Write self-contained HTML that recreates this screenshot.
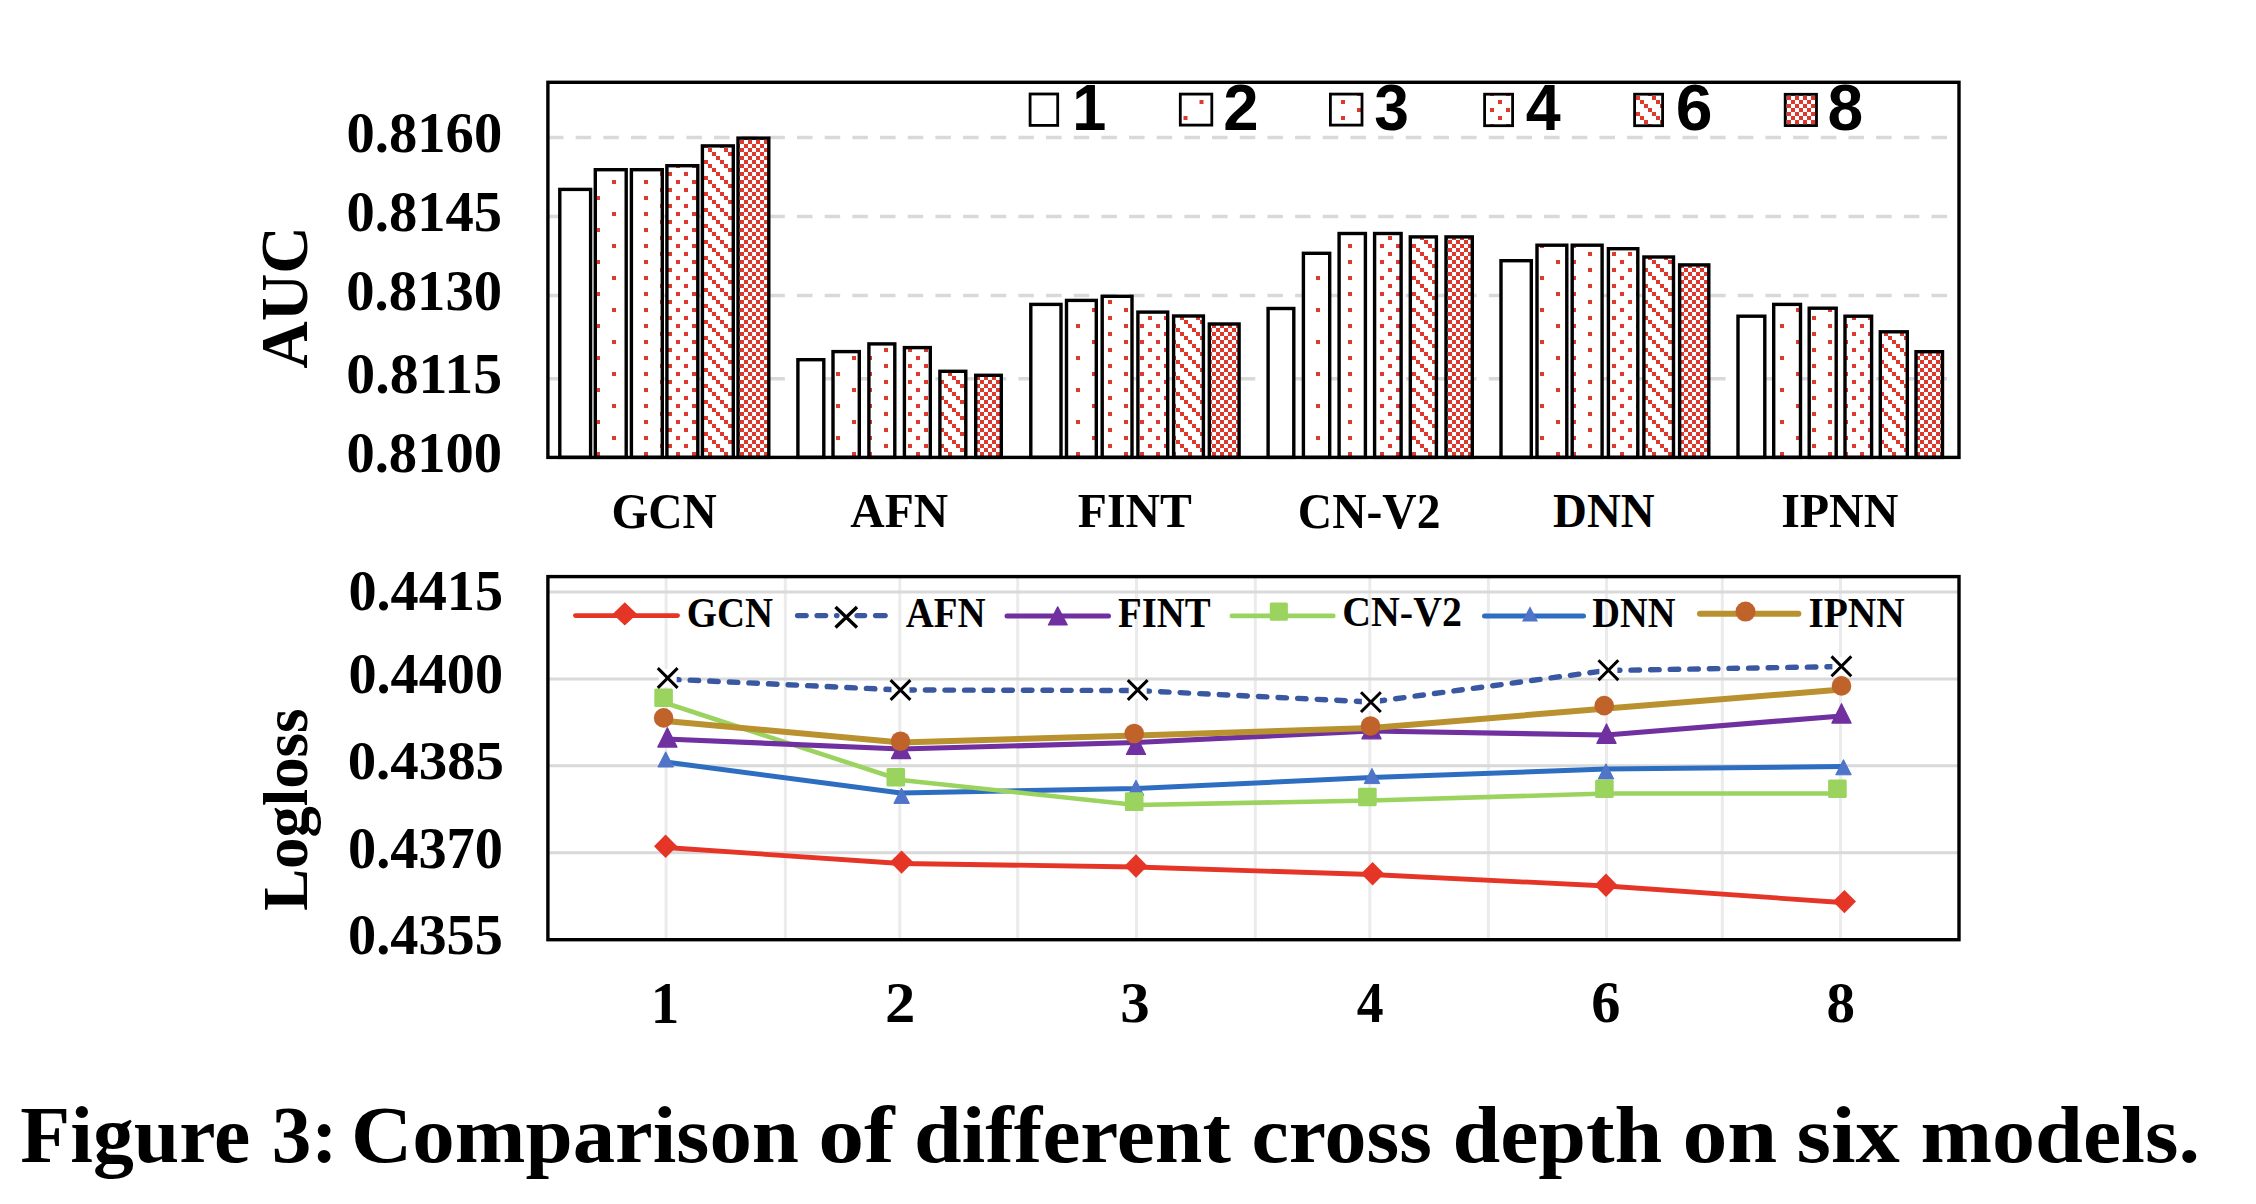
<!DOCTYPE html>
<html><head><meta charset="utf-8"><style>
html,body{margin:0;padding:0;background:#fff;}
svg{display:block;}
</style></head><body>
<svg width="2256" height="1204" viewBox="0 0 2256 1204">
<defs>
<pattern id="p2" patternUnits="userSpaceOnUse" width="32" height="32"><rect width="32" height="32" fill="#fff"/><rect x="20" y="4" width="4" height="4" fill="#DC3A2E"/><rect x="4" y="20" width="4" height="4" fill="#DC3A2E"/></pattern>
<pattern id="p3" patternUnits="userSpaceOnUse" width="32" height="16"><rect width="32" height="16" fill="#fff"/><rect x="4" y="4" width="4" height="4" fill="#DC3A2E"/><rect x="20" y="12" width="4" height="4" fill="#DC3A2E"/></pattern>
<pattern id="p4" patternUnits="userSpaceOnUse" width="16" height="16"><rect width="16" height="16" fill="#fff"/><rect x="4" y="4" width="4" height="4" fill="#DC3A2E"/><rect x="12" y="12" width="4" height="4" fill="#DC3A2E"/></pattern>
<pattern id="p6" patternUnits="userSpaceOnUse" width="16" height="16"><rect width="16" height="16" fill="#fff"/><rect x="0" y="0" width="4" height="4" fill="#DC3A2E"/><rect x="4" y="4" width="4" height="4" fill="#DC3A2E"/><rect x="8" y="8" width="4" height="4" fill="#DC3A2E"/><rect x="12" y="12" width="4" height="4" fill="#DC3A2E"/></pattern>
<pattern id="p8" patternUnits="userSpaceOnUse" width="8" height="8"><rect width="8" height="8" fill="#fff"/><rect x="0" y="0" width="4" height="4" fill="#DC3A2E"/><rect x="4" y="4" width="4" height="4" fill="#DC3A2E"/></pattern>
<pattern id="q2" href="#p2" patternTransform="translate(-4.5,0)"/>
<pattern id="q3" href="#p3" patternTransform="translate(-7,0)"/>
<pattern id="q4" href="#p4" patternTransform="translate(6,0)"/>
<pattern id="q6" href="#p6" patternTransform="translate(4,0)"/>
<pattern id="q8" href="#p8" patternTransform="translate(3,0)"/>
</defs>
<rect width="2256" height="1204" fill="#fff"/>

<line x1="547.9" y1="137.4" x2="1959.0" y2="137.4" stroke="#D9D9D9" stroke-width="3.5" stroke-dasharray="15.5 12.17" stroke-dashoffset="-0.1"/>
<line x1="547.9" y1="216.4" x2="1959.0" y2="216.4" stroke="#D9D9D9" stroke-width="3.5" stroke-dasharray="15.5 12.17" stroke-dashoffset="-0.1"/>
<line x1="547.9" y1="295.6" x2="1959.0" y2="295.6" stroke="#D9D9D9" stroke-width="3.5" stroke-dasharray="15.5 12.17" stroke-dashoffset="-0.1"/>
<line x1="547.9" y1="378.8" x2="1959.0" y2="378.8" stroke="#D9D9D9" stroke-width="3.5" stroke-dasharray="15.5 12.17" stroke-dashoffset="-0.1"/>
<rect x="559.8" y="189.4" width="30.8" height="268" fill="#fff" stroke="#000" stroke-width="3.4"/>
<rect x="595.3" y="169.7" width="30.9" height="287.7" fill="url(#p2)" stroke="#000" stroke-width="3.4"/>
<rect x="631.4" y="169.7" width="30.9" height="287.7" fill="url(#p3)" stroke="#000" stroke-width="3.4"/>
<rect x="666.9" y="165.7" width="30.9" height="291.7" fill="url(#p4)" stroke="#000" stroke-width="3.4"/>
<rect x="702.4" y="145.9" width="30.9" height="311.5" fill="url(#p6)" stroke="#000" stroke-width="3.4"/>
<rect x="738" y="138.1" width="30.8" height="319.3" fill="url(#p8)" stroke="#000" stroke-width="3.4"/>
<rect x="797.9" y="359.7" width="25.9" height="97.7" fill="#fff" stroke="#000" stroke-width="3.4"/>
<rect x="833" y="351.6" width="26.3" height="105.8" fill="url(#p2)" stroke="#000" stroke-width="3.4"/>
<rect x="868.9" y="343.9" width="25.9" height="113.5" fill="url(#p3)" stroke="#000" stroke-width="3.4"/>
<rect x="904.4" y="347.6" width="25.9" height="109.8" fill="url(#p4)" stroke="#000" stroke-width="3.4"/>
<rect x="939.9" y="371.3" width="25.9" height="86.1" fill="url(#p6)" stroke="#000" stroke-width="3.4"/>
<rect x="975.7" y="375.3" width="25.6" height="82.1" fill="url(#p8)" stroke="#000" stroke-width="3.4"/>
<rect x="1030.8" y="304.4" width="30.2" height="153" fill="#fff" stroke="#000" stroke-width="3.4"/>
<rect x="1066.5" y="300.4" width="29.8" height="157" fill="url(#p2)" stroke="#000" stroke-width="3.4"/>
<rect x="1102.2" y="296.3" width="29.8" height="161.1" fill="url(#p3)" stroke="#000" stroke-width="3.4"/>
<rect x="1137.9" y="312.1" width="29.8" height="145.3" fill="url(#p4)" stroke="#000" stroke-width="3.4"/>
<rect x="1173.6" y="316" width="29.8" height="141.4" fill="url(#p6)" stroke="#000" stroke-width="3.4"/>
<rect x="1209.3" y="324" width="29.8" height="133.4" fill="url(#p8)" stroke="#000" stroke-width="3.4"/>
<rect x="1268.1" y="308.5" width="25.7" height="148.9" fill="#fff" stroke="#000" stroke-width="3.4"/>
<rect x="1303.4" y="253.3" width="26.3" height="204.1" fill="url(#p2)" stroke="#000" stroke-width="3.4"/>
<rect x="1339.1" y="233.5" width="26.3" height="223.9" fill="url(#p3)" stroke="#000" stroke-width="3.4"/>
<rect x="1374.6" y="233.5" width="26.5" height="223.9" fill="url(#p4)" stroke="#000" stroke-width="3.4"/>
<rect x="1410.3" y="236.9" width="26.1" height="220.5" fill="url(#p6)" stroke="#000" stroke-width="3.4"/>
<rect x="1446" y="236.9" width="26.3" height="220.5" fill="url(#p8)" stroke="#000" stroke-width="3.4"/>
<rect x="1501" y="260.7" width="30.3" height="196.7" fill="#fff" stroke="#000" stroke-width="3.4"/>
<rect x="1537" y="245.2" width="29.8" height="212.2" fill="url(#p2)" stroke="#000" stroke-width="3.4"/>
<rect x="1572.2" y="245.2" width="29.9" height="212.2" fill="url(#p3)" stroke="#000" stroke-width="3.4"/>
<rect x="1608.4" y="248.7" width="29.4" height="208.7" fill="url(#p4)" stroke="#000" stroke-width="3.4"/>
<rect x="1643.9" y="257" width="29.6" height="200.4" fill="url(#p6)" stroke="#000" stroke-width="3.4"/>
<rect x="1679.6" y="264.9" width="29.2" height="192.5" fill="url(#p8)" stroke="#000" stroke-width="3.4"/>
<rect x="1738" y="316.2" width="26.8" height="141.2" fill="#fff" stroke="#000" stroke-width="3.4"/>
<rect x="1773.7" y="304.4" width="26.8" height="153" fill="url(#p2)" stroke="#000" stroke-width="3.4"/>
<rect x="1809.2" y="308.2" width="27" height="149.2" fill="url(#p3)" stroke="#000" stroke-width="3.4"/>
<rect x="1845" y="316.2" width="26.6" height="141.2" fill="url(#p4)" stroke="#000" stroke-width="3.4"/>
<rect x="1880.3" y="331.8" width="27" height="125.6" fill="url(#p6)" stroke="#000" stroke-width="3.4"/>
<rect x="1916" y="351.7" width="26.5" height="105.7" fill="url(#p8)" stroke="#000" stroke-width="3.4"/>
<rect x="547.9" y="82.3" width="1411.1" height="375.1" fill="none" stroke="#000" stroke-width="3.4"/>
<rect x="1030.1" y="94" width="27.6" height="31.4" fill="#fff" stroke="#000" stroke-width="2.8"/>
<rect x="1180.3" y="94.1" width="31.5" height="31" fill="url(#q2)" stroke="#000" stroke-width="2.8"/>
<rect x="1330.4" y="94.1" width="31.6" height="31" fill="url(#q3)" stroke="#000" stroke-width="2.8"/>
<rect x="1484.6" y="94.2" width="28" height="31.5" fill="url(#q4)" stroke="#000" stroke-width="2.8"/>
<rect x="1634.6" y="94.2" width="28" height="31.5" fill="url(#q6)" stroke="#000" stroke-width="2.8"/>
<rect x="1785.2" y="94.3" width="31.3" height="31.3" fill="url(#q8)" stroke="#000" stroke-width="2.8"/>
<text transform="translate(1072.37,130.3) scale(0.9490,1)" font-size="64.58" font-family='"Liberation Sans", sans-serif' font-weight="bold" fill="#000">1</text>
<text transform="translate(1223.18,130.4) scale(0.9871,1)" font-size="64.37" font-family='"Liberation Sans", sans-serif' font-weight="bold" fill="#000">2</text>
<text transform="translate(1374.2,130.2) scale(0.9723,1)" font-size="64.08" font-family='"Liberation Sans", sans-serif' font-weight="bold" fill="#000">3</text>
<text transform="translate(1525.76,130.3) scale(0.9747,1)" font-size="64.44" font-family='"Liberation Sans", sans-serif' font-weight="bold" fill="#000">4</text>
<text transform="translate(1675.82,130.26) scale(1.0326,1)" font-size="64.03" font-family='"Liberation Sans", sans-serif' font-weight="bold" fill="#000">6</text>
<text transform="translate(1827.61,130.06) scale(1.0021,1)" font-size="64.03" font-family='"Liberation Sans", sans-serif' font-weight="bold" fill="#000">8</text>
<text transform="translate(346.58,152.13) scale(0.9793,1)" font-size="57.79" font-family='"Liberation Serif", serif' font-weight="bold" fill="#000">0.8160</text>
<text transform="translate(346.58,230.55) scale(0.9971,1)" font-size="56.76" font-family='"Liberation Serif", serif' font-weight="bold" fill="#000">0.8145</text>
<text transform="translate(346.27,309.84) scale(0.9907,1)" font-size="57.21" font-family='"Liberation Serif", serif' font-weight="bold" fill="#000">0.8130</text>
<text transform="translate(346.33,393.04) scale(1.0108,1)" font-size="57.21" font-family='"Liberation Serif", serif' font-weight="bold" fill="#000">0.8115</text>
<text transform="translate(346.38,471.94) scale(0.9926,1)" font-size="57.06" font-family='"Liberation Serif", serif' font-weight="bold" fill="#000">0.8100</text>
<text transform="translate(611.43,527.89) scale(0.9386,1)" font-size="50.56" font-family='"Liberation Serif", serif' font-weight="bold" fill="#000">GCN</text>
<text transform="translate(850.32,527.2) scale(0.9642,1)" font-size="49.39" font-family='"Liberation Serif", serif' font-weight="bold" fill="#000">AFN</text>
<text transform="translate(1077.76,527) scale(0.9776,1)" font-size="48.85" font-family='"Liberation Serif", serif' font-weight="bold" fill="#000">FINT</text>
<text transform="translate(1297.82,527.65) scale(0.9478,1)" font-size="50.18" font-family='"Liberation Serif", serif' font-weight="bold" fill="#000">CN-V2</text>
<text transform="translate(1553.08,526.88) scale(0.9632,1)" font-size="48.67" font-family='"Liberation Serif", serif' font-weight="bold" fill="#000">DNN</text>
<text transform="translate(1781.14,527) scale(0.9825,1)" font-size="48.85" font-family='"Liberation Serif", serif' font-weight="bold" fill="#000">IPNN</text>
<text transform="translate(307.13,368.86) rotate(-90) scale(0.9793,1)" font-size="67.21" font-family='"Liberation Serif", serif' font-weight="bold" fill="#000">AUC</text>
<line x1="666.1" y1="576.6" x2="666.1" y2="939.7" stroke="#EBEBEB" stroke-width="3"/>
<line x1="785.3" y1="576.6" x2="785.3" y2="939.7" stroke="#EBEBEB" stroke-width="3"/>
<line x1="899.8" y1="576.6" x2="899.8" y2="939.7" stroke="#EBEBEB" stroke-width="3"/>
<line x1="1017.7" y1="576.6" x2="1017.7" y2="939.7" stroke="#EBEBEB" stroke-width="3"/>
<line x1="1136.5" y1="576.6" x2="1136.5" y2="939.7" stroke="#EBEBEB" stroke-width="3"/>
<line x1="1255.3" y1="576.6" x2="1255.3" y2="939.7" stroke="#EBEBEB" stroke-width="3"/>
<line x1="1369.8" y1="576.6" x2="1369.8" y2="939.7" stroke="#EBEBEB" stroke-width="3"/>
<line x1="1488.4" y1="576.6" x2="1488.4" y2="939.7" stroke="#EBEBEB" stroke-width="3"/>
<line x1="1606.5" y1="576.6" x2="1606.5" y2="939.7" stroke="#EBEBEB" stroke-width="3"/>
<line x1="1722.3" y1="576.6" x2="1722.3" y2="939.7" stroke="#EBEBEB" stroke-width="3"/>
<line x1="1840.5" y1="576.6" x2="1840.5" y2="939.7" stroke="#EBEBEB" stroke-width="3"/>
<line x1="547.9" y1="592" x2="1959.0" y2="592" stroke="#D9D9D9" stroke-width="3"/>
<line x1="547.9" y1="678.9" x2="1959.0" y2="678.9" stroke="#D9D9D9" stroke-width="3"/>
<line x1="547.9" y1="765.8" x2="1959.0" y2="765.8" stroke="#D9D9D9" stroke-width="3"/>
<line x1="547.9" y1="852.8" x2="1959.0" y2="852.8" stroke="#D9D9D9" stroke-width="3"/>
<polyline points="665.6,847.5 900.8,863.5 1136,867 1371.2,874.5 1606.4,886 1841.6,902.5" fill="none" stroke="#E53527" stroke-width="4.8" stroke-linejoin="round"/>
<path d="M665.6,834.5 L677.2,846.2 L665.6,857.9 L654,846.2Z" fill="#E53527"/>
<path d="M901.6,850.4 L913.2,862.1 L901.6,873.8 L890,862.1Z" fill="#E53527"/>
<path d="M1136,854.3 L1147.6,866 L1136,877.7 L1124.4,866Z" fill="#E53527"/>
<path d="M1372.6,862 L1384.2,873.7 L1372.6,885.4 L1361,873.7Z" fill="#E53527"/>
<path d="M1606,873.6 L1617.6,885.3 L1606,897 L1594.4,885.3Z" fill="#E53527"/>
<path d="M1844.4,889.9 L1856,901.6 L1844.4,913.3 L1832.8,901.6Z" fill="#E53527"/>
<polyline points="665.6,762 900.8,793 1136,788.5 1371.2,777.5 1606.4,769 1841.6,766.5" fill="none" stroke="#2E6EC0" stroke-width="5" stroke-linejoin="round"/>
<path d="M665.7,751.8 L673.5,767 L657.9,767Z" fill="#4F74C8" stroke="#4F74C8" stroke-width="1" stroke-linejoin="round"/>
<path d="M901.6,788.2 L909.4,803.4 L893.8,803.4Z" fill="#4F74C8" stroke="#4F74C8" stroke-width="1" stroke-linejoin="round"/>
<path d="M1136,780.1 L1143.8,795.3 L1128.2,795.3Z" fill="#4F74C8" stroke="#4F74C8" stroke-width="1" stroke-linejoin="round"/>
<path d="M1372,768.4 L1379.8,783.6 L1364.2,783.6Z" fill="#4F74C8" stroke="#4F74C8" stroke-width="1" stroke-linejoin="round"/>
<path d="M1606,763.8 L1613.8,779 L1598.2,779Z" fill="#4F74C8" stroke="#4F74C8" stroke-width="1" stroke-linejoin="round"/>
<path d="M1843.5,759.6 L1851.3,774.8 L1835.7,774.8Z" fill="#4F74C8" stroke="#4F74C8" stroke-width="1" stroke-linejoin="round"/>
<polyline points="665.6,703 900.8,780 1136,805 1371.2,800.5 1606.4,793.5 1841.6,793.5" fill="none" stroke="#9BD35F" stroke-width="4.6" stroke-linejoin="round"/>
<rect x="654.3" y="688.4" width="18.6" height="18.6" rx="1.5" fill="#9BD35F"/>
<rect x="886.5" y="767.9" width="18.6" height="18.6" rx="1.5" fill="#9BD35F"/>
<rect x="1124.9" y="792.3" width="18.6" height="18.6" rx="1.5" fill="#9BD35F"/>
<rect x="1358.1" y="787.7" width="18.6" height="18.6" rx="1.5" fill="#9BD35F"/>
<rect x="1595.1" y="779.5" width="18.6" height="18.6" rx="1.5" fill="#9BD35F"/>
<rect x="1828.1" y="779.4" width="18.6" height="18.6" rx="1.5" fill="#9BD35F"/>
<polyline points="665.6,739 900.8,749 1136,742.5 1371.2,731 1606.4,735 1841.6,716" fill="none" stroke="#7030A0" stroke-width="5.2" stroke-linejoin="round"/>
<path d="M667.4,727.7 L677,747.1 L657.8,747.1Z" fill="#7030A0" stroke="#7030A0" stroke-width="1.2" stroke-linejoin="round"/>
<path d="M901,739.2 L910.6,758.6 L891.4,758.6Z" fill="#7030A0" stroke="#7030A0" stroke-width="1.2" stroke-linejoin="round"/>
<path d="M1136,735 L1145.6,754.4 L1126.4,754.4Z" fill="#7030A0" stroke="#7030A0" stroke-width="1.2" stroke-linejoin="round"/>
<path d="M1371.5,719.4 L1381.1,738.8 L1361.9,738.8Z" fill="#7030A0" stroke="#7030A0" stroke-width="1.2" stroke-linejoin="round"/>
<path d="M1606.5,723.9 L1616.1,743.3 L1596.9,743.3Z" fill="#7030A0" stroke="#7030A0" stroke-width="1.2" stroke-linejoin="round"/>
<path d="M1841.5,703.7 L1851.1,723.1 L1831.9,723.1Z" fill="#7030A0" stroke="#7030A0" stroke-width="1.2" stroke-linejoin="round"/>
<polyline points="665.6,721 900.8,742.5 1136,735.5 1371.2,728 1606.4,708.5 1841.6,689.5" fill="none" stroke="#B9912F" stroke-width="6" stroke-linejoin="round"/>
<circle cx="663.6" cy="717.9" r="9.8" fill="#C0632B"/>
<circle cx="900.5" cy="741.2" r="9.8" fill="#C0632B"/>
<circle cx="1134.2" cy="733.5" r="9.8" fill="#C0632B"/>
<circle cx="1370.5" cy="726" r="9.8" fill="#C0632B"/>
<circle cx="1604.2" cy="705.6" r="9.8" fill="#C0632B"/>
<circle cx="1841.5" cy="685.9" r="9.8" fill="#C0632B"/>
<line x1="665.6" y1="679" x2="900.8" y2="690" stroke="#3A58A2" stroke-width="5.4" stroke-dasharray="8.5 11.1" stroke-dashoffset="-5" stroke-linecap="round"/>
<line x1="900.8" y1="690" x2="1136" y2="690.5" stroke="#3A58A2" stroke-width="5.4" stroke-dasharray="8.5 11.1" stroke-dashoffset="-5" stroke-linecap="round"/>
<line x1="1136" y1="690.5" x2="1371.2" y2="702" stroke="#3A58A2" stroke-width="5.4" stroke-dasharray="8.5 11.1" stroke-dashoffset="-5" stroke-linecap="round"/>
<line x1="1371.2" y1="702" x2="1606.4" y2="670.5" stroke="#3A58A2" stroke-width="5.4" stroke-dasharray="8.5 11.1" stroke-dashoffset="-5" stroke-linecap="round"/>
<line x1="1606.4" y1="670.5" x2="1841.6" y2="666.5" stroke="#3A58A2" stroke-width="5.4" stroke-dasharray="8.5 11.1" stroke-dashoffset="-5" stroke-linecap="round"/>
<rect x="658.7" y="669" width="18" height="18" fill="#fff"/>
<path d="M657.8,668.1 L677.6,687.9 M677.6,668.1 L657.8,687.9" stroke="#000" stroke-width="3.0"/>
<rect x="891.5" y="681" width="18" height="18" fill="#fff"/>
<path d="M890.6,680.1 L910.4,699.9 M910.4,680.1 L890.6,699.9" stroke="#000" stroke-width="3.0"/>
<rect x="1128.7" y="681" width="18" height="18" fill="#fff"/>
<path d="M1127.8,680.1 L1147.6,699.9 M1147.6,680.1 L1127.8,699.9" stroke="#000" stroke-width="3.0"/>
<rect x="1361.9" y="693.1" width="18" height="18" fill="#fff"/>
<path d="M1361,692.2 L1380.8,712 M1380.8,692.2 L1361,712" stroke="#000" stroke-width="3.0"/>
<rect x="1599.4" y="661.2" width="18" height="18" fill="#fff"/>
<path d="M1598.5,660.3 L1618.3,680.1 M1618.3,660.3 L1598.5,680.1" stroke="#000" stroke-width="3.0"/>
<rect x="1832.4" y="657.3" width="18" height="18" fill="#fff"/>
<path d="M1831.5,656.4 L1851.3,676.2 M1851.3,656.4 L1831.5,676.2" stroke="#000" stroke-width="3.0"/>
<rect x="547.9" y="576.6" width="1411.1" height="363.1" fill="none" stroke="#000" stroke-width="3.4"/>
<line x1="575.5" y1="615.6" x2="677.5" y2="615.6" stroke="#E53527" stroke-width="4.9" stroke-linecap="round"/>
<path d="M624.8,602.2 L637,614 L624.8,625.6 L612.7,614Z" fill="#E53527"/>
<line x1="797.5" y1="615.6" x2="806.2" y2="615.6" stroke="#3A58A2" stroke-width="5.2" stroke-linecap="round"/>
<line x1="817" y1="615.6" x2="825.7" y2="615.6" stroke="#3A58A2" stroke-width="5.2" stroke-linecap="round"/>
<line x1="836.5" y1="615.6" x2="837" y2="615.6" stroke="#3A58A2" stroke-width="5.2" stroke-linecap="round"/>
<line x1="857" y1="615.6" x2="864.7" y2="615.6" stroke="#3A58A2" stroke-width="5.2" stroke-linecap="round"/>
<line x1="875.5" y1="615.6" x2="885.2" y2="615.6" stroke="#3A58A2" stroke-width="5.2" stroke-linecap="round"/>
<path d="M835.5,607 L857,627.6 M857,607 L835.5,627.6" stroke="#000" stroke-width="3.4"/>
<line x1="1007" y1="615.9" x2="1108.5" y2="615.9" stroke="#7030A0" stroke-width="5" stroke-linecap="round"/>
<path d="M1057.7,606.8 L1067.2,624.9 L1048.4,624.9Z" fill="#7030A0" stroke="#7030A0" stroke-width="1.2" stroke-linejoin="round"/>
<line x1="1231.8" y1="615.9" x2="1333.3" y2="615.9" stroke="#9BD35F" stroke-width="4.6" stroke-linecap="round"/>
<rect x="1269.8" y="602.4" width="18.1" height="18.3" rx="1.5" fill="#9BD35F"/>
<line x1="1484.5" y1="616" x2="1583.5" y2="616" stroke="#2E6EC0" stroke-width="5" stroke-linecap="round"/>
<path d="M1530,606.3 L1538,621.6 L1522,621.6Z" fill="#4F74C8"/>
<line x1="1700" y1="613.8" x2="1798.4" y2="613.8" stroke="#B9912F" stroke-width="6" stroke-linecap="round"/>
<circle cx="1745.5" cy="611.6" r="10" fill="#C0632B"/>
<text transform="translate(686.76,626.58) scale(0.9329,1)" font-size="41.64" font-family='"Liberation Serif", serif' font-weight="bold" fill="#000">GCN</text>
<text transform="translate(905.81,626.6) scale(0.9431,1)" font-size="41.21" font-family='"Liberation Serif", serif' font-weight="bold" fill="#000">AFN</text>
<text transform="translate(1118.02,626.6) scale(0.9346,1)" font-size="41.53" font-family='"Liberation Serif", serif' font-weight="bold" fill="#000">FINT</text>
<text transform="translate(1342.31,626.38) scale(0.9645,1)" font-size="41.33" font-family='"Liberation Serif", serif' font-weight="bold" fill="#000">CN-V2</text>
<text transform="translate(1592.33,626.5) scale(0.9273,1)" font-size="41.37" font-family='"Liberation Serif", serif' font-weight="bold" fill="#000">DNN</text>
<text transform="translate(1808.42,626.6) scale(0.9502,1)" font-size="41.53" font-family='"Liberation Serif", serif' font-weight="bold" fill="#000">IPNN</text>
<text transform="translate(348.39,609.74) scale(0.9810,1)" font-size="57.35" font-family='"Liberation Serif", serif' font-weight="bold" fill="#000">0.4415</text>
<text transform="translate(348.39,692.84) scale(0.9835,1)" font-size="57.21" font-family='"Liberation Serif", serif' font-weight="bold" fill="#000">0.4400</text>
<text transform="translate(347.67,778.97) scale(1.0311,1)" font-size="55.15" font-family='"Liberation Serif", serif' font-weight="bold" fill="#000">0.4385</text>
<text transform="translate(347.99,867.53) scale(0.9680,1)" font-size="58.24" font-family='"Liberation Serif", serif' font-weight="bold" fill="#000">0.4370</text>
<text transform="translate(347.99,954.34) scale(0.9779,1)" font-size="57.65" font-family='"Liberation Serif", serif' font-weight="bold" fill="#000">0.4355</text>
<text transform="translate(650.73,1022.9) scale(0.9597,1)" font-size="59.55" font-family='"Liberation Serif", serif' font-weight="bold" fill="#000">1</text>
<text transform="translate(885.02,1022.2) scale(1.0559,1)" font-size="57.51" font-family='"Liberation Serif", serif' font-weight="bold" fill="#000">2</text>
<text transform="translate(1120.29,1022.42) scale(1.0165,1)" font-size="57.99" font-family='"Liberation Serif", serif' font-weight="bold" fill="#000">3</text>
<text transform="translate(1356.73,1022.2) scale(0.9253,1)" font-size="57.95" font-family='"Liberation Serif", serif' font-weight="bold" fill="#000">4</text>
<text transform="translate(1591.36,1022.32) scale(1.0017,1)" font-size="58.29" font-family='"Liberation Serif", serif' font-weight="bold" fill="#000">6</text>
<text transform="translate(1826.45,1022.32) scale(0.9817,1)" font-size="58.07" font-family='"Liberation Serif", serif' font-weight="bold" fill="#000">8</text>
<text transform="translate(307.3,910.8) rotate(-90) scale(0.9782,1)" font-size="64.15" font-family='"Liberation Serif", serif' font-weight="bold" fill="#000">Logloss</text>
<text transform="translate(20.27,1162.3) scale(1.0279,1)" font-size="79.55" font-family='"Liberation Serif", serif' font-weight="bold" fill="#000">Figure</text>
<text transform="translate(271.63,1162.3) scale(0.9950,1)" font-size="79.55" font-family='"Liberation Serif", serif' font-weight="bold" fill="#000">3:</text>
<text transform="translate(351.06,1162.3) scale(1.0670,1)" font-size="79.55" font-family='"Liberation Serif", serif' font-weight="bold" fill="#000">Comparison</text>
<text transform="translate(818.26,1162.3) scale(1.1525,1)" font-size="79.55" font-family='"Liberation Serif", serif' font-weight="bold" fill="#000">of</text>
<text transform="translate(913.98,1162.3) scale(1.0762,1)" font-size="79.55" font-family='"Liberation Serif", serif' font-weight="bold" fill="#000">different</text>
<text transform="translate(1251.56,1162.3) scale(1.0556,1)" font-size="79.55" font-family='"Liberation Serif", serif' font-weight="bold" fill="#000">cross</text>
<text transform="translate(1452.47,1162.3) scale(1.0788,1)" font-size="79.55" font-family='"Liberation Serif", serif' font-weight="bold" fill="#000">depth</text>
<text transform="translate(1682.43,1162.3) scale(1.1298,1)" font-size="79.55" font-family='"Liberation Serif", serif' font-weight="bold" fill="#000">on</text>
<text transform="translate(1796.54,1162.3) scale(1.1134,1)" font-size="79.55" font-family='"Liberation Serif", serif' font-weight="bold" fill="#000">six</text>
<text transform="translate(1920.43,1162.3) scale(1.0813,1)" font-size="79.55" font-family='"Liberation Serif", serif' font-weight="bold" fill="#000">models.</text>
</svg></body></html>
